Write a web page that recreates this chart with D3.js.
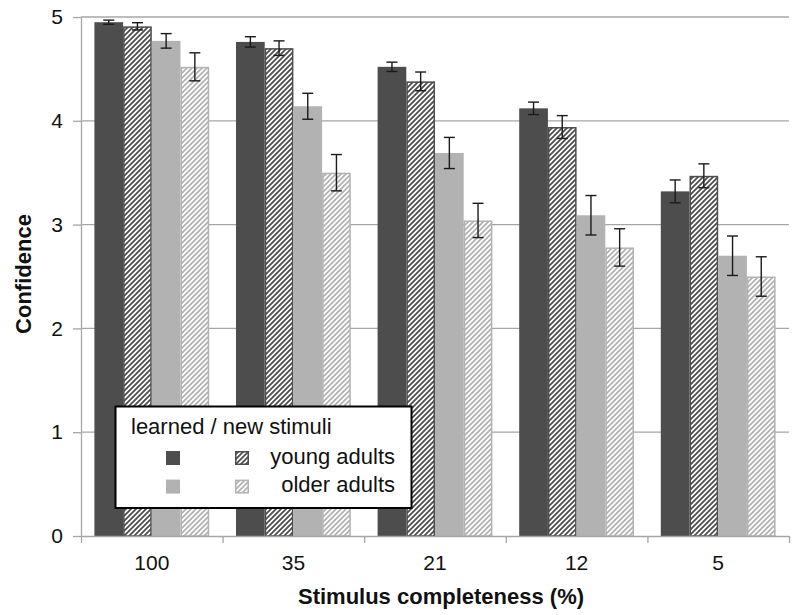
<!DOCTYPE html>
<html>
<head>
<meta charset="utf-8">
<script src="https://cdn.jsdelivr.net/npm/d3@7"></script>
<style>
  html, body { margin: 0; padding: 0; background: #ffffff; }
  svg { display: block; font-family: "Liberation Sans", Arial, sans-serif; }
</style>
</head>
<body>
<svg id="chart" width="800" height="615"></svg>
<script>
// ---------- data ----------
const categories = ["100", "35", "21", "12", "5"];
const seriesKeys = ["learnedYoung", "newYoung", "learnedOlder", "newOlder"];
const learnedYoung = [4.95, 4.76, 4.52, 4.12, 3.32];
const newYoung     = [4.91, 4.70, 4.38, 3.94, 3.47];
const learnedOlder = [4.77, 4.14, 3.69, 3.09, 2.70];
const newOlder     = [4.52, 3.50, 3.04, 2.78, 2.50];
const errLearnedYoung = [0.02, 0.05, 0.045, 0.06, 0.11];
const errNewYoung     = [0.035, 0.07, 0.09, 0.11, 0.115];
const errLearnedOlder = [0.07, 0.125, 0.15, 0.19, 0.19];
const errNewOlder     = [0.135, 0.175, 0.165, 0.18, 0.19];
const yTicks = [0, 1, 2, 3, 4, 5];
const legendTitle = "learned / new stimuli";
const legendRows = ["young adults", "older adults"];
const xTitle = "Stimulus completeness (%)";
const yTitle = "Confidence";

const valuesBySeries = {learnedYoung, newYoung, learnedOlder, newOlder};
const errorsBySeries = {
  learnedYoung: errLearnedYoung, newYoung: errNewYoung,
  learnedOlder: errLearnedOlder, newOlder: errNewOlder
};

// ---------- layout ----------
const DARK = "#4d4d4d", LIGHT = "#b2b2b2", GRID = "#a6a6a6";
const plotLeft = 81, plotRight = 789, plotTop = 17, plotBottom = 536;

const svg = d3.select("#chart");
const defs = svg.append("defs");
function hatch(id, color) {
  const p = defs.append("pattern").attr("id", id)
    .attr("patternUnits", "userSpaceOnUse").attr("width", 5).attr("height", 5);
  p.append("rect").attr("width", 5).attr("height", 5).attr("fill", "#fff");
  p.append("path").attr("d", "M-1,1 L1,-1 M0,5 L5,0 M4,6 L6,4")
    .attr("stroke", color).attr("stroke-width", 1.8).attr("stroke-linecap", "square");
}
hatch("hatchDark", DARK);
hatch("hatchLight", LIGHT);

const styles = {
  learnedYoung: {fill: DARK, stroke: "none"},
  newYoung: {fill: "url(#hatchDark)", stroke: DARK},
  learnedOlder: {fill: LIGHT, stroke: "none"},
  newOlder: {fill: "url(#hatchLight)", stroke: LIGHT}
};

const y = d3.scaleLinear().domain([0, 5]).range([plotBottom, plotTop]);
const x0 = d3.scaleBand().domain(categories).range([plotLeft, plotRight]).padding(0);
const x1 = d3.scaleBand().domain(seriesKeys).range([0, x0.bandwidth()])
  .paddingInner(0).paddingOuter(0.467);

// gridlines
svg.append("g").selectAll("line").data(yTicks.filter(d => d > 0)).join("line")
  .attr("x1", plotLeft).attr("x2", plotRight)
  .attr("y1", d => y(d)).attr("y2", d => y(d))
  .attr("stroke", GRID).attr("stroke-width", 1.3);

// bars
const rows = [];
categories.forEach((c, i) => seriesKeys.forEach(k => rows.push({
  cat: c, key: k, v: valuesBySeries[k][i], e: errorsBySeries[k][i]
})));
const sOff = d => (styles[d.key].stroke !== "none" ? 0.75 : 0);

svg.append("g").selectAll("rect").data(rows).join("rect")
  .attr("x", d => x0(d.cat) + x1(d.key) + sOff(d))
  .attr("y", d => y(d.v) + sOff(d))
  .attr("width", d => x1.bandwidth() - 2 * sOff(d))
  .attr("height", d => y(0) - y(d.v) - sOff(d))
  .attr("fill", d => styles[d.key].fill)
  .attr("stroke", d => styles[d.key].stroke)
  .attr("stroke-width", 1.5);

// error bars
const eg = svg.append("g").attr("stroke", "#1a1a1a").attr("stroke-width", 1.4);
const cx = d => x0(d.cat) + x1(d.key) + x1.bandwidth() / 2;
eg.selectAll("line.v").data(rows).join("line").attr("class", "v")
  .attr("x1", cx).attr("x2", cx)
  .attr("y1", d => y(d.v + d.e)).attr("y2", d => y(d.v - d.e));
eg.selectAll("line.t").data(rows).join("line").attr("class", "t")
  .attr("x1", d => cx(d) - 5.5).attr("x2", d => cx(d) + 5.5)
  .attr("y1", d => y(d.v + d.e)).attr("y2", d => y(d.v + d.e));
eg.selectAll("line.b").data(rows).join("line").attr("class", "b")
  .attr("x1", d => cx(d) - 5.5).attr("x2", d => cx(d) + 5.5)
  .attr("y1", d => y(d.v - d.e)).attr("y2", d => y(d.v - d.e));

// y axis
const yAxis = svg.append("g").attr("transform", `translate(${plotLeft},0)`)
  .call(d3.axisLeft(y).tickValues(yTicks).tickFormat(d3.format("d")).tickSize(8).tickPadding(10).tickSizeOuter(0));
yAxis.selectAll("path, line").attr("stroke", GRID).attr("stroke-width", 1.3);
yAxis.selectAll("text").attr("font-size", 21).attr("fill", "#111")
  .attr("font-family", "'Liberation Sans', Arial, sans-serif");

// x axis: boundary ticks + labels
const xb = d3.scaleLinear().domain([0, categories.length]).range([plotLeft, plotRight]);
const xTickAxis = svg.append("g").attr("transform", `translate(0,${plotBottom})`)
  .call(d3.axisBottom(xb).ticks(categories.length).tickFormat("").tickSize(7).tickSizeOuter(0));
xTickAxis.selectAll("path, line").attr("stroke", GRID).attr("stroke-width", 1.3);

const xLabAxis = svg.append("g").attr("transform", `translate(0,${plotBottom})`)
  .call(d3.axisBottom(x0).tickSize(0).tickPadding(19));
xLabAxis.select(".domain").remove();
xLabAxis.selectAll("text").attr("font-size", 21).attr("fill", "#111")
  .attr("font-family", "'Liberation Sans', Arial, sans-serif");

// titles
svg.append("text").attr("x", 441).attr("y", 604).attr("text-anchor", "middle")
  .attr("font-size", 22).attr("font-weight", "bold").attr("fill", "#111").text(xTitle);
svg.append("text").attr("transform", "rotate(-90)").attr("x", -274).attr("y", 31)
  .attr("text-anchor", "middle").attr("font-size", 22).attr("font-weight", "bold")
  .attr("fill", "#111").text(yTitle);

// legend
const lg = svg.append("g");
lg.append("rect").attr("x", 115.5).attr("y", 406.5).attr("width", 296).attr("height", 101.5)
  .attr("fill", "#fff").attr("stroke", "#000").attr("stroke-width", 2);
lg.append("text").attr("x", 131).attr("y", 434).attr("font-size", 22).attr("fill", "#111").text(legendTitle);
const swatchRows = [["learnedYoung", "newYoung"], ["learnedOlder", "newOlder"]];
swatchRows.forEach((pair, r) => {
  const sy = 451 + r * 28.6;
  pair.forEach((k, c) => {
    const st = styles[k];
    const o = st.stroke !== "none" ? 0.75 : 0;
    lg.append("rect")
      .attr("x", (c === 0 ? 166 : 235) + o)
      .attr("y", sy + o)
      .attr("width", 14 - 2 * o).attr("height", 14 - 2 * o)
      .attr("fill", st.fill).attr("stroke", st.stroke).attr("stroke-width", 1.5);
  });
  lg.append("text").attr("x", 395).attr("y", sy + 12.5).attr("text-anchor", "end")
    .attr("font-size", 22).attr("fill", "#111").text(legendRows[r]);
});
</script>
</body>
</html>
